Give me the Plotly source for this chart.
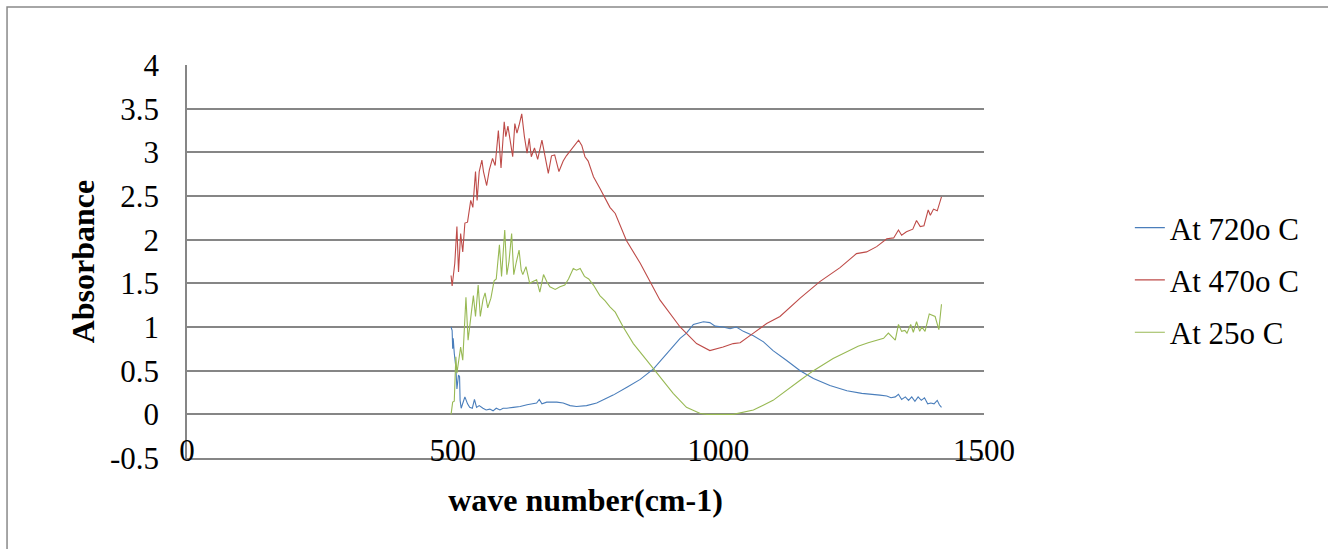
import plotly.graph_objects as go

# ---- data ----
x_720 = [497, 499, 500, 501, 503, 506, 508, 511, 513, 514, 516, 520, 523, 528, 532, 537, 541, 545,
         550, 557, 563, 570, 576, 582, 589, 595, 602, 614, 627, 640, 652, 658, 663, 668, 677, 696,
         708, 721, 733, 752, 771, 790, 802, 828, 853, 878, 903, 928, 940, 953, 972, 984, 994, 1009,
         1022, 1034, 1047, 1066, 1085, 1103, 1128, 1154, 1179, 1210, 1242, 1270, 1304, 1317, 1325,
         1333, 1339, 1345, 1352, 1358, 1364, 1370, 1376, 1382, 1388, 1394, 1400, 1406, 1412, 1416, 1420]
y_720 = [1.00, 0.96, 0.75, 0.87, 0.70, 0.54, 0.29, 0.45, 0.43, 0.16, 0.07, 0.16, 0.20, 0.12, 0.08,
         0.07, 0.17, 0.08, 0.10, 0.07, 0.05, 0.06, 0.04, 0.07, 0.05, 0.07, 0.07, 0.08, 0.09, 0.11,
         0.12, 0.13, 0.17, 0.12, 0.14, 0.14, 0.13, 0.10, 0.09, 0.10, 0.13, 0.18, 0.22, 0.31, 0.40,
         0.52, 0.70, 0.87, 0.93, 1.03, 1.06, 1.05, 1.01, 1.00, 0.98, 1.00, 0.95, 0.90, 0.83, 0.73,
         0.62, 0.50, 0.41, 0.33, 0.27, 0.24, 0.22, 0.21, 0.19, 0.20, 0.23, 0.17, 0.20, 0.16, 0.20,
         0.15, 0.20, 0.16, 0.19, 0.12, 0.13, 0.12, 0.16, 0.11, 0.08]

x_470 = [497, 499, 504, 508, 511, 515, 519, 523, 528, 534, 538, 543, 546, 550, 555, 558, 564, 569,
         575, 580, 586, 591, 597, 600, 604, 608, 613, 617, 621, 625, 630, 635, 640, 644, 648, 654,
         660, 668, 674, 680, 686, 692, 700, 708, 714, 724, 730, 737, 743, 749, 755, 765, 777, 787,
         796, 806, 827, 853, 890, 928, 959, 984, 1009, 1028, 1041, 1066, 1091, 1116, 1154, 1191,
         1229, 1260, 1279, 1298, 1317, 1330, 1339, 1345, 1354, 1366, 1373, 1380, 1387, 1395, 1399,
         1405, 1412, 1420]
y_470 = [1.59, 1.47, 1.73, 2.15, 1.63, 2.07, 1.86, 2.19, 2.20, 2.45, 2.37, 2.78, 2.45, 2.78, 2.91,
         2.78, 2.62, 2.80, 2.93, 2.85, 3.25, 2.82, 3.35, 3.18, 3.30, 3.15, 2.95, 3.33, 3.22, 3.31,
         3.44, 3.18, 2.99, 3.16, 2.95, 3.05, 2.92, 3.14, 2.96, 2.76, 2.96, 2.97, 2.78, 2.90, 2.96,
         3.04, 3.08, 3.14, 3.08, 2.95, 2.90, 2.72, 2.59, 2.47, 2.37, 2.30, 1.99, 1.73, 1.31, 1.00,
         0.81, 0.73, 0.77, 0.81, 0.82, 0.93, 1.04, 1.12, 1.33, 1.52, 1.68, 1.84, 1.86, 1.92, 2.01,
         2.02, 2.11, 2.05, 2.09, 2.12, 2.22, 2.15, 2.16, 2.34, 2.28, 2.35, 2.33, 2.49]

x_25 = [497, 500, 503, 506, 508, 515, 519, 525, 529, 539, 543, 548, 552, 557, 561, 566, 572, 578,
        582, 588, 592, 598, 602, 606, 611, 615, 620, 625, 629, 632, 638, 645, 651, 658, 664, 671,
        677, 683, 693, 702, 711, 718, 727, 733, 740, 748, 756, 765, 777, 787, 796, 806, 821, 840,
        865, 890, 915, 940, 966, 979, 1028, 1066, 1103, 1154, 1179, 1216, 1254, 1263, 1282, 1294,
        1311, 1320, 1333, 1339, 1345, 1351, 1355, 1362, 1367, 1373, 1379, 1383, 1389, 1397, 1404,
        1408, 1415, 1420]
y_25 = [0.00, 0.14, 0.15, 0.66, 0.47, 0.77, 0.62, 1.34, 0.85, 1.36, 1.12, 1.48, 1.12, 1.31, 1.39,
        1.22, 1.33, 1.53, 1.55, 1.94, 1.58, 2.11, 1.60, 1.75, 2.07, 1.60, 1.75, 1.88, 1.65, 1.60,
        1.69, 1.50, 1.52, 1.54, 1.40, 1.60, 1.52, 1.46, 1.43, 1.46, 1.48, 1.55, 1.67, 1.65, 1.67,
        1.58, 1.55, 1.48, 1.36, 1.30, 1.23, 1.17, 1.00, 0.81, 0.62, 0.43, 0.24, 0.08, 0.01, 0.00,
        0.00, 0.05, 0.16, 0.39, 0.50, 0.64, 0.75, 0.78, 0.82, 0.84, 0.87, 0.93, 0.85, 1.03, 0.95,
        0.96, 0.93, 1.03, 0.94, 1.06, 0.95, 1.00, 0.95, 1.15, 1.13, 1.12, 0.97, 1.26]

series_names = ["At 720o C", "At 470o C", "At 25o C"]
series_colors = ["#4a7ebb", "#be4b48", "#98b954"]

x_ticks = [0, 500, 1000, 1500]
y_ticks = [-0.5, 0, 0.5, 1, 1.5, 2, 2.5, 3, 3.5, 4]
y_tick_text = ["-0.5", "0", "0.5", "1", "1.5", "2", "2.5", "3", "3.5", "4"]

FONT = "Liberation Serif, Times New Roman, serif"
GRID = "#868686"

fig = go.Figure()
for i, (xs, ys) in enumerate([(x_720, y_720), (x_470, y_470), (x_25, y_25)]):
    fig.add_trace(go.Scatter(
        x=xs, y=ys, mode="lines", name=series_names[i],
        line=dict(color=series_colors[i], width=1.1),
        legendgroup="g%d" % i,
    ))

fig.update_layout(
    width=1328, height=549, autosize=False,
    margin=dict(l=187, r=344, t=65, b=91),
    paper_bgcolor="white", plot_bgcolor="white",
    font=dict(family=FONT, size=31, color="black"),
    showlegend=True,
    legend=dict(
        x=1.183, xanchor="left", y=0.453, yanchor="middle",
        font=dict(family=FONT, size=31, color="black"),
        tracegroupgap=9, bgcolor="rgba(0,0,0,0)",
    ),
    xaxis=dict(
        range=[0, 1500], tickvals=x_ticks, ticktext=[str(v) for v in x_ticks],
        showgrid=False, zeroline=False, showline=True, linecolor=GRID, linewidth=1.5,
        ticks="", ticklabelstandoff=-36,
        tickfont=dict(family=FONT, size=31),
        title=dict(text="<b>wave number(cm-1)</b>", font=dict(family=FONT, size=32), standoff=22),
    ),
    yaxis=dict(
        range=[-0.5, 4], tickvals=y_ticks, ticktext=y_tick_text,
        showgrid=True, gridcolor=GRID, gridwidth=1.5,
        zeroline=False, showline=True, linecolor=GRID, linewidth=1.5,
        ticks="", ticklabelstandoff=20,
        tickfont=dict(family=FONT, size=31),
        title=dict(text="<b>Absorbance</b>", font=dict(family=FONT, size=32), standoff=6),
    ),
    shapes=[dict(type="rect", xref="paper", yref="paper",
                 x0=-0.2258, x1=1.45, y0=-0.25, y1=1.1476,
                 line=dict(color="#898989", width=1.5), fillcolor="rgba(0,0,0,0)", layer="below")],
)

fig.write_html("out.html")
